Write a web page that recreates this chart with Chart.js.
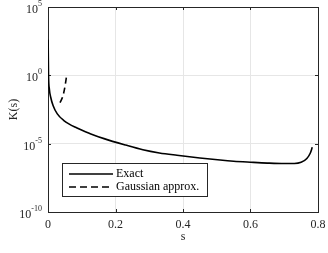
<!DOCTYPE html>
<html><head><meta charset="utf-8">
<script src="https://cdn.jsdelivr.net/npm/chart.js@4"></script>
<style>html,body{margin:0;padding:0;background:#fff}#wrap{width:328px;height:253px}</style>
</head><body><div id="wrap"><canvas id="c" width="328" height="253"></canvas></div>
<script>
const sExact = [0.0004, 0.0015, 0.004, 0.008, 0.015, 0.0276, 0.047, 0.086, 0.125, 0.166, 0.23, 0.281, 0.33, 0.382, 0.45, 0.51, 0.55, 0.6, 0.65, 0.7, 0.73, 0.75, 0.767, 0.777, 0.783];
const kExact = [398, 1.26, 0.1, 0.025, 0.0063, 0.0015, 4.9e-4, 1.38e-4, 5.4e-5, 2.34e-5, 7.9e-6, 3.6e-6, 2.1e-6, 1.41e-6, 8.9e-7, 6.3e-7, 5.2e-7, 4.4e-7, 3.8e-7, 3.5e-7, 3.5e-7, 4.3e-7, 8.3e-7, 2.0e-6, 5.4e-6];
const sGauss = [0.0356, 0.0436, 0.050, 0.055];
const kGauss = [0.01, 0.0275, 0.141, 0.89];
const xTicks = [0, 0.2, 0.4, 0.6, 0.8];
const yTicks = [1e-10, 1e-5, 1e0, 1e5];
const yTickBase = '10';
const yTickExp = ['-10', '-5', '0', '5'];
const seriesNames = ['Exact', 'Gaussian approx.'];

const FONT = "'Liberation Serif', 'Times New Roman', serif";

const boxPlugin = {
  id: 'box',
  beforeDatasetsDraw(chart) {
    const {ctx, chartArea: a, scales} = chart;
    ctx.save();
    ctx.strokeStyle = '#262626';
    ctx.lineWidth = 1;
    ctx.beginPath();
    xTicks.forEach(v => {
      const x = Math.round(scales.x.getPixelForValue(v)) + 0.5;
      ctx.moveTo(x, a.bottom); ctx.lineTo(x, a.bottom - 3);
      ctx.moveTo(x, a.top); ctx.lineTo(x, a.top + 3);
    });
    yTicks.forEach(v => {
      const y = Math.round(scales.y.getPixelForValue(v)) + 0.5;
      ctx.moveTo(a.left, y); ctx.lineTo(a.left + 3, y);
      ctx.moveTo(a.right, y); ctx.lineTo(a.right - 3, y);
    });
    ctx.stroke();
    ctx.strokeRect(Math.round(a.left) + 0.5, Math.round(a.top) + 0.5, Math.round(a.right - a.left), Math.round(a.bottom - a.top));
    // y tick labels with superscripts
    ctx.fillStyle = '#262626';
    ctx.textBaseline = 'alphabetic';
    ctx.textAlign = 'left';
    yTicks.forEach((v, i) => {
      const y = scales.y.getPixelForValue(v);
      ctx.font = '8px ' + FONT;
      const ew = ctx.measureText(yTickExp[i]).width;
      ctx.font = '12px ' + FONT;
      const bw = ctx.measureText(yTickBase).width;
      const right = 42;
      ctx.fillText(yTickBase, right - ew - bw, y + 6);
      ctx.font = '8px ' + FONT;
      ctx.fillText(yTickExp[i], right - ew, y - 1);
    });
    ctx.restore();
  },
  afterDraw(chart) {
    const {ctx} = chart;
    ctx.save();
    const lx = 62, ly = 163, lw = 145, lh = 33;
    ctx.fillStyle = '#fff';
    ctx.fillRect(lx, ly, lw, lh);
    ctx.strokeStyle = '#262626';
    ctx.lineWidth = 1;
    ctx.strokeRect(lx + 0.5, ly + 0.5, lw, lh);
    ctx.strokeStyle = '#000';
    ctx.lineWidth = 1.5;
    ctx.beginPath(); ctx.moveTo(69, 174); ctx.lineTo(113, 174); ctx.stroke();
    ctx.setLineDash([7, 4]);
    ctx.beginPath(); ctx.moveTo(69, 187); ctx.lineTo(113, 187); ctx.stroke();
    ctx.setLineDash([]);
    ctx.fillStyle = '#000';
    ctx.font = '12px ' + FONT;
    ctx.textBaseline = 'middle';
    ctx.textAlign = 'left';
    ctx.fillText(seriesNames[0], 116, 174);
    ctx.fillText(seriesNames[1], 116, 187);
    ctx.restore();
  }
};

const noPad = s => { s.paddingTop = 0; s.paddingBottom = 0; s.paddingLeft = 0; s.paddingRight = 0; };

new Chart(document.getElementById('c'), {
  type: 'line',
  data: {
    datasets: [
      { label: seriesNames[0], data: sExact.map((s, i) => ({x: s, y: kExact[i]})), borderColor: '#000', borderWidth: 1.6, pointRadius: 0, cubicInterpolationMode: 'monotone', fill: false },
      { label: seriesNames[1], data: sGauss.map((s, i) => ({x: s, y: kGauss[i]})), borderColor: '#000', borderWidth: 1.6, borderDash: [6, 4], pointRadius: 0, cubicInterpolationMode: 'monotone', fill: false }
    ]
  },
  options: {
    responsive: false,
    animation: false,
    devicePixelRatio: 1,
    layout: { padding: { top: 7, right: 10, left: 0, bottom: 0 } },
    plugins: { legend: { display: false }, tooltip: { enabled: false } },
    scales: {
      x: {
        type: 'linear', min: 0, max: 0.8,
        afterBuildTicks: s => { s.ticks = xTicks.map(v => ({value: v})); },
        afterFit: s => { s.height = 41; noPad(s); },
        grid: { color: '#e6e6e6', drawTicks: false },
        border: { display: false },
        ticks: { padding: 6, color: '#262626', font: { family: FONT, size: 12 }, maxRotation: 0, callback: v => String(v) },
        title: { display: true, text: 's', color: '#262626', font: { family: FONT, size: 12 }, padding: { top: 0, bottom: 9 } }
      },
      y: {
        type: 'logarithmic', min: 1e-10, max: 1e5,
        afterBuildTicks: s => { s.ticks = yTicks.map(v => ({value: v})); },
        afterFit: s => { s.width = 48; noPad(s); },
        grid: { color: '#e6e6e6', drawTicks: false },
        border: { display: false },
        ticks: { display: false },
        title: { display: true, text: 'K(s)', color: '#262626', font: { family: FONT, size: 12 }, padding: { top: 7, bottom: 0 } }
      }
    }
  },
  plugins: [boxPlugin]
});
</script></body></html>
